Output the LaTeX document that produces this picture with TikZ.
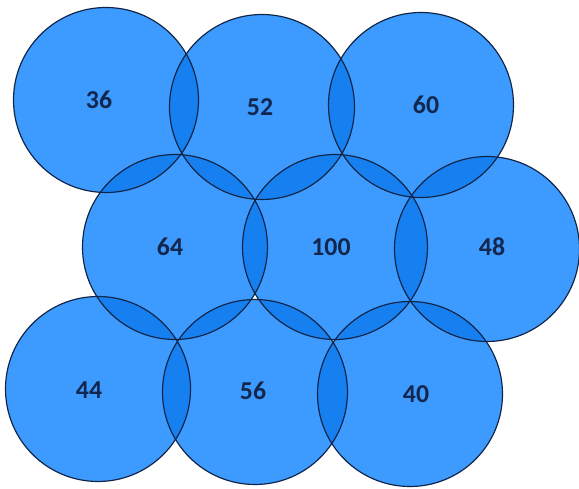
\documentclass[tikz,border=0pt]{standalone}
\usepackage{fontspec}
\setmainfont{Carlito}
\definecolor{discblue}{RGB}{61,155,255}
\definecolor{lensblue}{RGB}{22,128,240}
\definecolor{rimnavy}{RGB}{16,36,72}
\definecolor{textnavy}{RGB}{18,38,78}
\def\rad{2.775cm}
\begin{document}
\begin{tikzpicture}[x=0.03cm, y=-0.03cm,
  rim/.style={draw=rimnavy, line width=1pt},
  num/.style={text=textnavy, inner sep=0pt, font=\fontsize{22}{22}\selectfont\bfseries}]
  \useasboundingbox (0,0) rectangle (579,489);
  % disc centres
  \coordinate (p36) at (106,100);
  \coordinate (p52) at (262,107);
  \coordinate (p60) at (421,105);
  \coordinate (p64) at (175,247);
  \coordinate (p100) at (335,247);
  \coordinate (p48) at (487,249);
  \coordinate (p44) at (98,389);
  \coordinate (p56) at (255,392);
  \coordinate (p40) at (410,394);

  % discs
  \foreach \p in {p36,p52,p60,p64,p100,p48,p44,p56,p40}
    \fill[discblue] (\p) circle (\rad);

  % overlaps
  \foreach \a/\b in {p36/p52, p52/p60, p36/p64, p52/p64, p52/p100, p60/p100,
                     p60/p48, p64/p100, p100/p48, p64/p44, p64/p56, p100/p56,
                     p100/p40, p48/p40, p44/p56, p56/p40} {
    \begin{scope}
      \clip (\a) circle (\rad);
      \fill[lensblue] (\b) circle (\rad);
    \end{scope}
  }

  % outlines
  \foreach \p in {p36,p52,p60,p64,p100,p48,p44,p56,p40}
    \draw[rim] (\p) circle (\rad);

  \node[num] (n36) at (99,100) {36};
  \node[num] (n52) at (260,107) {52};
  \node[num] (n60) at (426,105) {60};
  \node[num] (n64) at (170,247) {64};
  \node[num] (n100) at (331,247) {100};
  \node[num] (n48) at (492,247) {48};
  \node[num] (n44) at (89,390) {44};
  \node[num] (n56) at (253,391) {56};
  \node[num] (n40) at (416,394) {40};
\end{tikzpicture}
\end{document}
